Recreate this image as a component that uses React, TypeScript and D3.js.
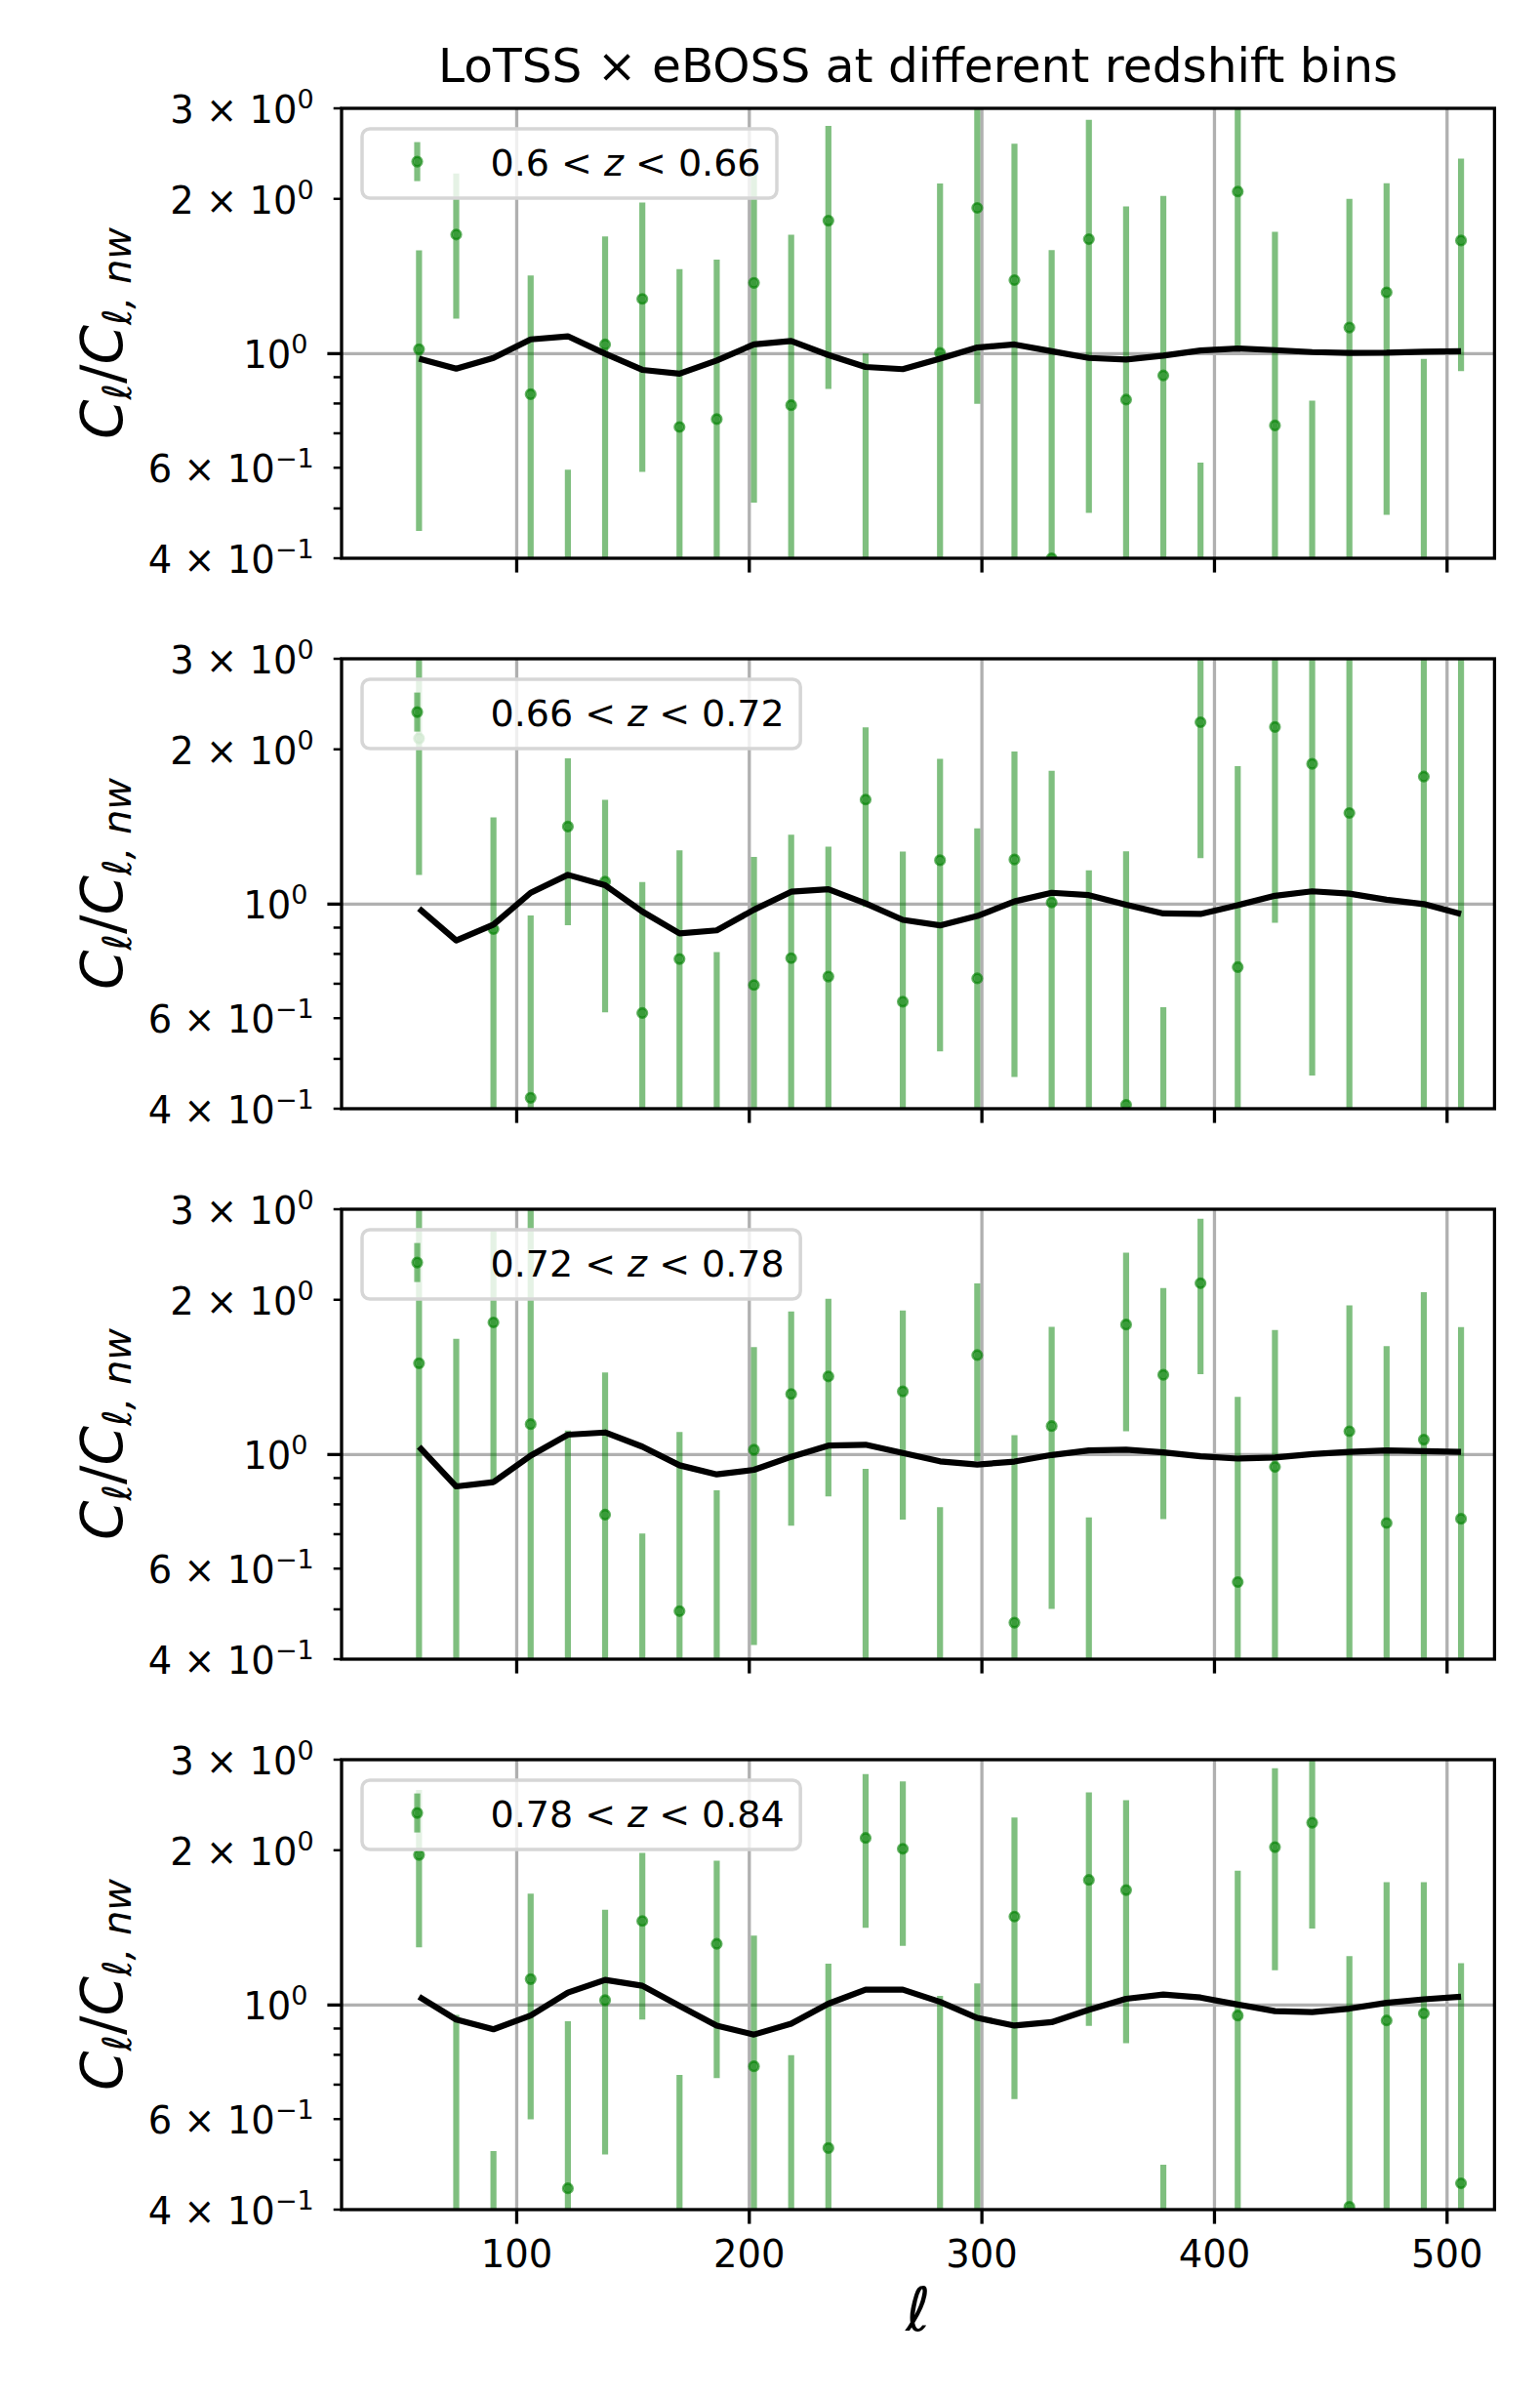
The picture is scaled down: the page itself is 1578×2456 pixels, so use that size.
import React, { useEffect, useRef } from 'react';
import * as d3 from 'd3';

// multipole bin centres
const ell = [58, 74, 90, 106, 122, 138, 154, 170, 186, 202, 218, 234, 250, 266, 282,
  298, 314, 330, 346, 362, 378, 394, 410, 426, 442, 458, 474, 490, 506];

const zBins = [['0.6', '0.66'], ['0.66', '0.72'], ['0.72', '0.78'], ['0.78', '0.84']];

// measured ratio C_l / C_l,nw (null = nothing shown)
const ratio1 = [1.02, 1.705, null, 0.834, 0.05, 1.042, 1.278, 0.72, 0.746, 1.373, 0.794, 1.814, 0.05, null, 1.003,
  1.921, 1.39, 0.40, 1.67, 0.814, 0.907, -0.5, 2.067, 0.725, -0.2, 1.124, 1.316, 0.05, 1.66];
const sigma1 = [0.568, 0.535, null, 0.586, 0.545, 0.648, 0.689, 0.74, 0.778, 0.86, 0.91, 0.96, 0.95, null, 1.14,
  1.122, 1.17, 1.19, 1.18, 1.12, 1.12, 1.114, 1.04, 1.0, 1.01, 0.876, 0.83, 0.927, 0.735];
const model1 = [0.978, 0.935, 0.981, 1.066, 1.081, 1.0, 0.93, 0.914, 0.97, 1.042, 1.058, 0.994, 0.942, 0.933, 0.978,
  1.028, 1.042, 1.011, 0.981, 0.974, 0.991, 1.014, 1.023, 1.016, 1.007, 1.003, 1.004, 1.009, 1.011];

const ratio2 = [2.1, null, 0.894, 0.42, 1.415, 1.106, 0.614, 0.782, 0.3, 0.696, 0.785, 0.723, 1.597, 0.646, 1.217,
  0.717, 1.221, 1.007, 0.35, 0.407, -0.27, 2.258, 0.754, 2.21, 1.874, 1.504, null, 1.77, 3.4];
const sigma2 = [0.96, null, 0.58, 0.53, 0.505, 0.49, 0.49, 0.49, 0.507, 0.54, 0.58, 0.57, 0.61, 0.62, 0.70,
  0.687, 0.76, 0.81, 0.813, 0.86, 0.9, 1.03, 1.1, 1.29, 1.41, 1.6, null, 1.7, 3.1];
const model2 = [0.98, 0.85, 0.912, 1.052, 1.14, 1.088, 0.967, 0.877, 0.889, 0.975, 1.057, 1.069, 1.003, 0.932, 0.909,
  0.948, 1.012, 1.052, 1.041, 0.997, 0.959, 0.957, 0.995, 1.038, 1.059, 1.048, 1.02, 1.0, 0.957];

const ratio3 = [1.505, 0.3, 1.807, 1.146, 0.3, 0.764, 0.1, 0.496, 0.25, 1.022, 1.312, 1.419, 0.35, 1.327, 0.2,
  1.561, 0.471, 1.136, 0.1, 1.79, 1.429, 2.154, 0.565, 0.946, null, 1.11, 0.736, 1.069, 0.75];
const sigma3 = [1.6, 1.38, 0.93, 2.0, 0.813, 0.68, 0.602, 0.61, 0.602, 0.596, 0.585, 0.59, 0.588, 0.58, 0.59,
  0.59, 0.62, 0.635, 0.655, 0.68, 0.68, 0.72, 0.73, 0.8, null, 0.84, 0.89, 1.0, 1.02];
const model3 = [1.036, 0.867, 0.884, 0.995, 1.093, 1.104, 1.036, 0.953, 0.915, 0.934, 0.99, 1.041, 1.045, 1.007, 0.97,
  0.956, 0.969, 0.998, 1.019, 1.022, 1.01, 0.992, 0.982, 0.987, 1.002, 1.012, 1.019, 1.015, 1.012];

const ratio4 = [1.958, 0.3, 0.02, 1.123, 0.44, 1.022, 1.457, 0.2, 1.315, 0.76, 0.15, 0.527, 2.113, 2.013, 0.3,
  0.3, 1.486, null, 1.751, 1.673, -0.35, null, 0.954, 2.028, 2.262, 0.405, 0.933, 0.963, 0.45];
const sigma4 = [0.663, 0.657, 0.5, 0.524, 0.49, 0.51, 0.52, 0.531, 0.594, 0.605, 0.649, 0.677, 0.7, 0.71, 0.742,
  0.801, 0.83, null, 0.84, 0.83, 0.839, null, 0.87, 0.86, 0.853, 0.84, 0.8, 0.77, 0.756];
const model4 = [1.038, 0.937, 0.897, 0.954, 1.057, 1.119, 1.09, 0.996, 0.912, 0.876, 0.92, 1.006, 1.071, 1.071, 1.014,
  0.944, 0.912, 0.926, 0.979, 1.028, 1.048, 1.034, 1.002, 0.973, 0.969, 0.984, 1.01, 1.026, 1.038];

const ratios = [ratio1, ratio2, ratio3, ratio4];
const sigmas = [sigma1, sigma2, sigma3, sigma4];
const models = [model1, model2, model3, model4];

const xTicks = [100, 200, 300, 400, 500];
const yMinorTicks = [0.4, 0.5, 0.6, 0.7, 0.8, 0.9, 2, 3];
const yMajorTicks = [1];
const yLabelTicks = [3, 2, 1, 0.6, 0.4];
const yTickMantissa = ['3 × ', '2 × ', '', '6 × ', '4 × '];
const yTickExponent = ['0', '0', '0', '−1', '−1'];

const W = 1578;
const H = 2456;
const FONT = '"DejaVu Sans", sans-serif';

const App: React.FC = () => {
  const svgRef = useRef<SVGSVGElement | null>(null);

  useEffect(() => {
    const svg = d3.select(svgRef.current);
    svg.selectAll('*').remove();
    svg.style('font-family', FONT);

    const left = 350;
    const right = 1531.4;
    const panelH = 461;
    const x = d3.scaleLinear().domain([24.7, 520.4]).range([left, right]);
    const defs = svg.append('defs');

    const drawMarker = (sel: d3.Selection<any, any, any, any>) =>
      sel.attr('r', 4.8)
        .attr('fill', '#008000').attr('fill-opacity', 0.55)
        .attr('stroke', '#008000').attr('stroke-opacity', 0.6)
        .attr('stroke-width', 2.6);

    svg.append('text')
      .attr('x', (left + right) / 2)
      .attr('y', 84)
      .attr('text-anchor', 'middle')
      .attr('font-size', 48.6)
      .text('LoTSS × eBOSS at different redshift bins');

    ratios.forEach((ratio, i) => {
      const top = 111 + i * 564;
      const bottom = top + panelH;
      const y = d3.scaleLog().domain([0.4, 3]).range([bottom, top]);
      const g = svg.append('g');

      defs.append('clipPath').attr('id', `clip${i}`)
        .append('rect')
        .attr('x', left).attr('y', top)
        .attr('width', right - left).attr('height', panelH);

      // grid
      g.append('g').selectAll('line').data(xTicks).join('line')
        .attr('x1', (d) => x(d)).attr('x2', (d) => x(d))
        .attr('y1', top).attr('y2', bottom)
        .attr('stroke', '#b0b0b0').attr('stroke-width', 3.3);
      g.append('g').selectAll('line').data(yMajorTicks).join('line')
        .attr('x1', left).attr('x2', right)
        .attr('y1', (d) => y(d)).attr('y2', (d) => y(d))
        .attr('stroke', '#b0b0b0').attr('stroke-width', 3.3);

      const rows = ell.map((l, j) => ({ l, v: ratio[j], s: sigmas[i][j] }))
        .filter((r) => r.v !== null && r.s !== null) as { l: number; v: number; s: number }[];

      const plot = g.append('g').attr('clip-path', `url(#clip${i})`);

      plot.append('g').selectAll('line').data(rows).join('line')
        .attr('x1', (d) => x(d.l)).attr('x2', (d) => x(d.l))
        .attr('y1', (d) => y(Math.max(d.v - d.s, 0.01)))
        .attr('y2', (d) => y(d.v + d.s))
        .attr('stroke', '#008000').attr('stroke-opacity', 0.5)
        .attr('stroke-width', 6.2);

      plot.append('g').selectAll('circle').data(rows.filter((r) => r.v > 0)).join('circle')
        .attr('cx', (d) => x(d.l)).attr('cy', (d) => y(d.v))
        .call(drawMarker);

      const line = d3.line<number>()
        .x((_, j) => x(ell[j]))
        .y((d) => y(d));
      plot.append('path')
        .datum(models[i])
        .attr('fill', 'none')
        .attr('stroke', '#000')
        .attr('stroke-width', 6.2)
        .attr('stroke-linejoin', 'round')
        .attr('d', line);

      // frame
      g.append('rect')
        .attr('x', left).attr('y', top)
        .attr('width', right - left).attr('height', panelH)
        .attr('fill', 'none').attr('stroke', '#000').attr('stroke-width', 3.3);

      // x ticks
      g.append('g').selectAll('line').data(xTicks).join('line')
        .attr('x1', (d) => x(d)).attr('x2', (d) => x(d))
        .attr('y1', bottom).attr('y2', bottom + 14.6)
        .attr('stroke', '#000').attr('stroke-width', 3.3);

      if (i === ratios.length - 1) {
        g.append('g').selectAll('text').data(xTicks).join('text')
          .attr('x', (d) => x(d)).attr('y', bottom + 59)
          .attr('text-anchor', 'middle')
          .attr('font-size', 38.5)
          .text((d) => String(d));
        g.append('text')
          .attr('x', (left + right) / 2).attr('y', bottom + 124)
          .attr('text-anchor', 'middle')
          .attr('font-size', 62)
          .attr('font-style', 'italic')
          .text('ℓ');
      }

      // y ticks
      g.append('g').selectAll('line').data(yMinorTicks).join('line')
        .attr('x1', left - 8.3).attr('x2', left)
        .attr('y1', (d) => y(d)).attr('y2', (d) => y(d))
        .attr('stroke', '#000').attr('stroke-width', 2.5);
      g.append('g').selectAll('line').data(yMajorTicks).join('line')
        .attr('x1', left - 14.6).attr('x2', left)
        .attr('y1', (d) => y(d)).attr('y2', (d) => y(d))
        .attr('stroke', '#000').attr('stroke-width', 3.3);

      yLabelTicks.forEach((t, k) => {
        const isMajor = yMajorTicks.includes(t);
        const tx = g.append('text')
          .attr('x', left - (isMajor ? 14.6 : 8.3) - 20)
          .attr('y', y(t) + 15)
          .attr('text-anchor', 'end')
          .attr('font-size', 38.5);
        tx.append('tspan').text(`${yTickMantissa[k]}10`);
        tx.append('tspan').attr('font-size', 27).attr('dy', -15).text(yTickExponent[k]);
      });

      // y label
      const cy = (top + bottom) / 2;
      const yl = g.append('text')
        .attr('transform', `translate(125,${cy}) rotate(-90)`)
        .attr('text-anchor', 'middle')
        .attr('font-size', 58);
      yl.append('tspan').attr('font-style', 'italic').text('C');
      yl.append('tspan').attr('font-size', 40).attr('dy', 9).attr('font-style', 'italic').text('ℓ');
      yl.append('tspan').attr('dy', -9).text('/');
      yl.append('tspan').attr('font-style', 'italic').text('C');
      yl.append('tspan').attr('font-size', 40).attr('dy', 9).attr('font-style', 'italic').text('ℓ, nw');

      // legend
      const lg = g.append('g');
      const boxX = left + 21;
      const boxY = top + 21;
      const box = lg.append('rect')
        .attr('x', boxX).attr('y', boxY)
        .attr('height', 71).attr('rx', 8)
        .attr('fill', '#fff').attr('fill-opacity', 0.8)
        .attr('stroke', '#d6d6d6').attr('stroke-width', 3.5);
      const mx = boxX + 56.5;
      const my = boxY + 33.6;
      lg.append('line')
        .attr('x1', mx).attr('x2', mx)
        .attr('y1', my - 20).attr('y2', my + 20)
        .attr('stroke', '#008000').attr('stroke-opacity', 0.5)
        .attr('stroke-width', 6.2);
      lg.append('circle')
        .attr('cx', mx).attr('cy', my)
        .call(drawMarker);
      const lt = lg.append('text')
        .attr('x', boxX + 131.5).attr('y', my + 14)
        .attr('font-size', 38);
      lt.append('tspan').text(`${zBins[i][0]} < `);
      lt.append('tspan').attr('font-style', 'italic').text('z');
      lt.append('tspan').text(` < ${zBins[i][1]}`);
      const tw = (lt.node() as SVGTextElement).getComputedTextLength();
      box.attr('width', 131.5 + tw + 16.5);
    });
  }, []);

  return (
    <svg
      ref={svgRef}
      width={W}
      height={H}
      style={{ position: 'absolute', left: 0, top: 0, background: '#fff' }}
    />
  );
};

export default App;
